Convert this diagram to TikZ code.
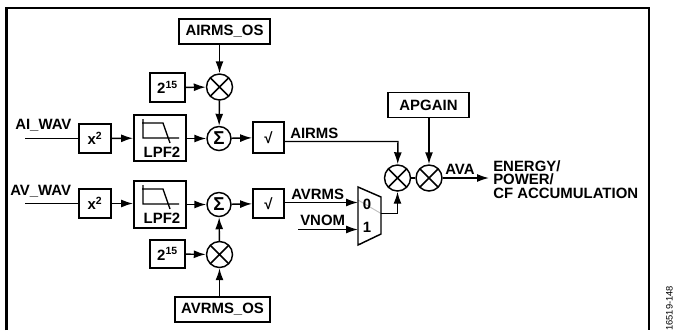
\documentclass[tikz,border=0pt]{standalone}
\usepackage{fontspec}
\setmainfont{Liberation Sans}
\usepackage{xcolor}
\usetikzlibrary{arrows.meta, positioning, calc}

\begin{document}
\begin{tikzpicture}[
    x=0.75pt, y=-0.75pt,
    box/.style={draw, line width=1.1pt, align=center, inner sep=0pt, font=\fontsize{11.2}{12}\bfseries\selectfont},
    thickbox/.style={box, line width=1.4pt},
    regbox/.style={thickbox, minimum height=18.75pt},
    mult/.style={draw, circle, line width=1.1pt, minimum size=19.5pt, inner sep=0pt,
        path picture={\draw[line width=1.1pt] (path picture bounding box.north west) -- (path picture bounding box.south east)
            (path picture bounding box.north east) -- (path picture bounding box.south west);}},
    sumnode/.style={draw, circle, line width=1.1pt, minimum size=18pt, inner sep=0pt, font=\fontsize{14}{14}\bfseries\selectfont},
    lbl/.style={inner sep=0pt, font=\fontsize{11.2}{12}\bfseries\selectfont},
    flow/.style={-{Latex[length=9pt, width=6pt]}, line width=1.1pt},
    wire/.style={line width=1.1pt},
    icon/.style={line width=1pt}
]
\useasboundingbox (0,0) rectangle (674,330);

% frame
\coordinate (frameBL) at (6.5,330);
\coordinate (frameTL) at (6.5,8);
\coordinate (frameTR) at (649,8);
\coordinate (frameBR) at (649,330);
\draw[line width=1.8pt] (frameBL) -- (frameTL) -- (frameTR) -- (frameBR);

% current channel
\node[regbox, minimum width=68pt] (airmsos) at (224.5,31.5) {AIRMS\_OS};
\node[mult] (multaios) at (219.5,87) {};
\node[box, minimum width=26pt, minimum height=21.5pt] (powai) at (167.5,87.5) {2\textsuperscript{15}};
\node[sumnode] (sumai) at (219,138.5) {Σ};
\node[box, minimum width=24pt, minimum height=22pt] (sqai) at (95,138.5) {x\textsuperscript{2}};
\node[thickbox, minimum width=39pt, minimum height=34.5pt] (lpfai) at (160,138) {};
\node[lbl] at (162,152) {LPF2};
\node[box, minimum width=23.5pt, minimum height=23pt] (rootai) at (268.5,137.5) {√};
\node[lbl, anchor=south west] (aiwav) at (15,132) {AI\_WAV};
\node[lbl, anchor=south west] (airms) at (290,138.5) {AIRMS};
\coordinate (aiin) at (25,138.5);
\coordinate (airmsbend) at (398,141.5);
\draw[icon] (142,123) -- (163,123) -- (170,143) (143,119) -- (143,138) -- (179,138);

% voltage channel
\node[regbox, minimum width=71pt] (avrmsos) at (222.5,309.5) {AVRMS\_OS};
\node[mult] (multavos) at (219.5,254.5) {};
\node[box, minimum width=26pt, minimum height=21pt] (powav) at (167.5,254) {2\textsuperscript{15}};
\node[sumnode] (sumav) at (219,204.5) {Σ};
\node[box, minimum width=24pt, minimum height=22pt] (sqav) at (95,203.5) {x\textsuperscript{2}};
\node[thickbox, minimum width=39pt, minimum height=35pt] (lpfav) at (160,204.5) {};
\node[lbl] at (162,218) {LPF2};
\node[box, minimum width=23.5pt, minimum height=22pt] (rootav) at (268.5,203.5) {√};
\node[lbl, anchor=south west] (avwav) at (10,198) {AV\_WAV};
\node[lbl, anchor=south west] (avrms) at (291,199.5) {AVRMS};
\node[lbl, anchor=south west] (vnom) at (300,225.5) {VNOM};
\coordinate (avin) at (25,203.5);
\coordinate (vnomin) at (298,229.5);
\draw[icon] (142,189) -- (163,189) -- (170,209) (143,185) -- (143,204) -- (179,204);

% mux
\coordinate (muxTL) at (358,187);
\coordinate (muxTR) at (381,197);
\coordinate (muxBR) at (381,234);
\coordinate (muxBL) at (358,245);
\coordinate (muxin0) at (358,202.5);
\coordinate (muxin1) at (358,229.5);
\coordinate (muxout) at (381,213.5);
\draw[gray!50, line width=0.7pt] (358,200) -- (muxout);
\draw[line width=1.1pt] (muxTL) -- (muxTR) -- (muxBR) -- (muxBL) -- cycle;
\node[lbl] (muxzero) at (367,204) {0};
\node[lbl] (muxone) at (367,227) {1};

% output side
\node[mult] (multrms) at (397.5,178) {};
\node[mult] (multgain) at (429,178) {};
\node[box, minimum width=60.5pt, minimum height=19pt] (apgain) at (428.5,105) {APGAIN};
\node[lbl, anchor=south west] (ava) at (445,174.5) {AVA};
\node[lbl, anchor=west, align=left, font=\fontsize{11.2}{9.9}\bfseries\selectfont] (accum) at (493,179.5) {ENERGY/\\POWER/\\CF ACCUMULATION};
\coordinate (avaend) at (489,178);

% figure number
\node[inner sep=0pt, rotate=90, anchor=south west, font=\fontsize{7}{7}\selectfont] (fignum) at (673,331) {16519-148};

% connectors
\draw[flow] (airmsos.south -| multaios) -- (multaios);
\draw[flow] (powai) -- (multaios);
\draw[flow] (multaios) -- (sumai);
\draw[wire] (aiin) -- (sqai);
\draw[flow] (sqai) -- (lpfai);
\draw[flow] (lpfai.east |- sumai) -- (sumai);
\draw[flow] (sumai) -- (rootai);
\draw[flow] (rootai.east |- airmsbend) -- (airmsbend) -- (multrms);

\draw[flow] (avrmsos.north -| multavos) -- (multavos);
\draw[flow] (powav) -- (multavos);
\draw[flow] (multavos) -- (sumav);
\draw[wire] (avin) -- (sqav);
\draw[flow] (sqav) -- (lpfav.west |- sqav);
\draw[flow] (lpfav.east |- sumav) -- (sumav);
\draw[flow] (sumav) -- (rootav);
\draw[flow] (rootav.east |- muxin0) -- (muxin0);
\draw[flow] (vnomin) -- (muxin1);
\draw[flow] (muxout) -| (multrms);

\draw[wire] (multrms) -- (multgain);
\draw[flow] (apgain.south -| multgain) -- (multgain);
\draw[flow] (multgain) -- (avaend);
\end{tikzpicture}
\end{document}
